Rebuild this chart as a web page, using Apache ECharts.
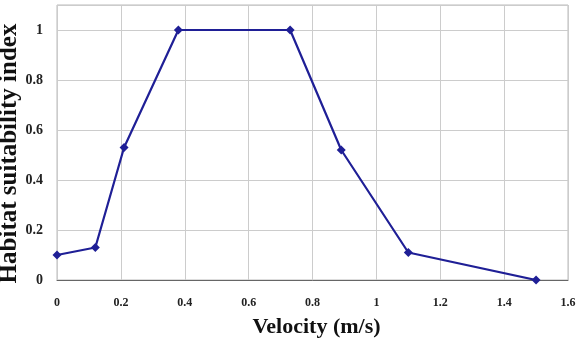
<!DOCTYPE html>
<html>
<head>
<meta charset="utf-8">
<script src="https://cdn.jsdelivr.net/npm/echarts@6/dist/echarts.min.js"></script>
<style>
  html, body { margin: 0; padding: 0; background: #fff; }
  #chart { width: 580px; height: 338px; }
</style>
</head>
<body>
<div id="chart"></div>
<script>
// velocity (m/s) vs habitat suitability index
const velocity = [0, 0.12, 0.21, 0.38, 0.73, 0.89, 1.1, 1.5];
const suitability = [0.1, 0.13, 0.53, 1, 1, 0.52, 0.11, 0];

const font = "'Liberation Serif', 'Times New Roman', serif";

const chart = echarts.init(document.getElementById("chart"));
chart.setOption({
  animation: false,
  grid: {
    left: 57, right: 12, top: 5, bottom: 58,
    outerBoundsMode: "none",
    show: true, borderColor: "#bbb", borderWidth: 1
  },
  xAxis: {
    type: "value",
    min: 0, max: 1.6, interval: 0.2,
    name: "Velocity (m/s)",
    nameLocation: "middle",
    nameGap: 36,
    nameMoveOverlap: false,
    nameTextStyle: { fontFamily: font, fontWeight: "bold", fontSize: 22, color: "#111", padding: [0, 0, 0, 8] },
    axisLine: { lineStyle: { color: "#666" } },
    axisTick: { show: false },
    axisLabel: { fontFamily: font, fontWeight: "bold", fontSize: 12, color: "#222", margin: 17 },
    splitLine: { lineStyle: { color: "#ccc" } }
  },
  yAxis: {
    type: "value",
    min: 0, max: 1.1, interval: 0.2,
    name: "Habitat suitability index",
    nameLocation: "middle",
    nameGap: 35,
    nameMoveOverlap: false,
    nameTextStyle: { fontFamily: font, fontWeight: "bold", fontSize: 25, color: "#111", padding: [0, 22, 0, 0] },
    axisLine: { show: false },
    axisTick: { show: false },
    axisLabel: { fontFamily: font, fontWeight: "bold", fontSize: 14, color: "#222", margin: 14, showMaxLabel: false },
    splitLine: { lineStyle: { color: "#ccc" } }
  },
  series: [{
    type: "line",
    data: velocity.map((v, i) => [v, suitability[i]]),
    symbol: "diamond",
    symbolSize: 9,
    lineStyle: { color: "#1f1f96", width: 2.2 },
    itemStyle: { color: "#1f1f96" }
  }]
});
</script>
</body>
</html>
